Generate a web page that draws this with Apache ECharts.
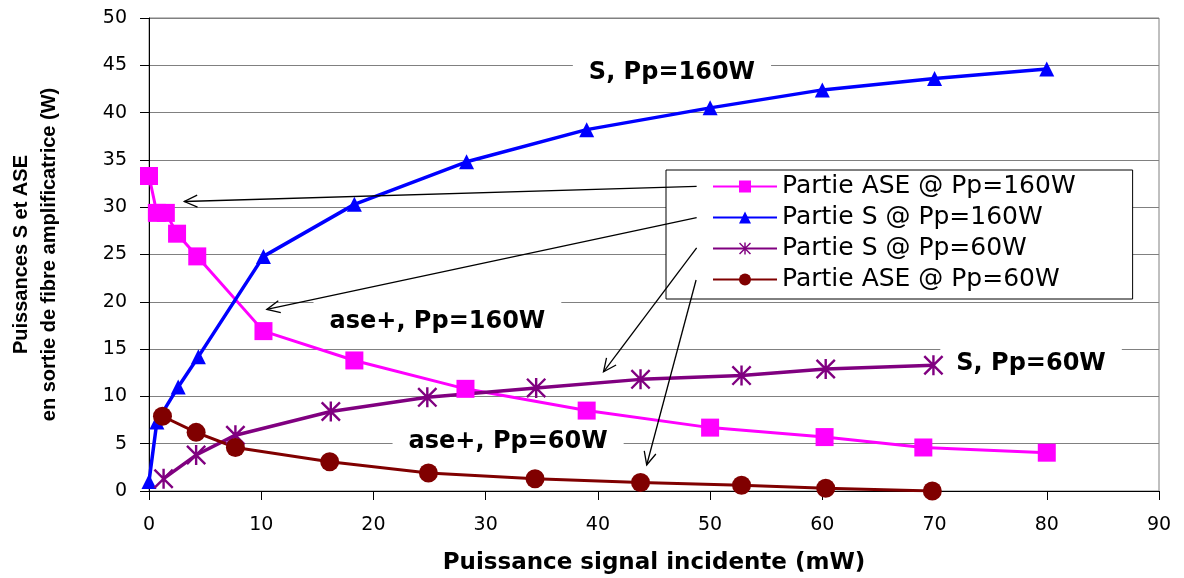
<!DOCTYPE html>
<html>
<head>
<meta charset="utf-8">
<script src="https://cdn.jsdelivr.net/npm/echarts@6/dist/echarts.min.js"></script>
<style>
html, body { margin: 0; padding: 0; background: #fff; }
#main { width: 1184px; height: 578px; }
</style>
</head>
<body>
<div id="main"></div>
<script>
// valeurs
var seriesNames = ['Partie ASE @ Pp=160W', 'Partie S @ Pp=160W', 'Partie S @ Pp=60W', 'Partie ASE @ Pp=60W'];

var xAse160 = [0, 0.7, 1.5, 2.5, 4.3, 10.2, 18.3, 28.2, 39.0, 50.0, 60.2, 69.0, 80.0];
var yAse160 = [33.3, 29.4, 29.4, 27.2, 24.8, 16.9, 13.8, 10.8, 8.5, 6.7, 5.7, 4.6, 4.05];

var xS160 = [0, 0.7, 2.6, 4.4, 10.2, 18.3, 28.3, 39.0, 50.0, 60.0, 70.0, 80.0];
var yS160 = [1.0, 7.3, 11.0, 14.2, 24.8, 30.3, 34.8, 38.2, 40.5, 42.4, 43.6, 44.6];

var xS60 = [1.3, 4.2, 7.7, 16.2, 24.8, 34.5, 43.8, 52.8, 60.3, 69.9];
var yS60 = [1.3, 3.8, 5.9, 8.4, 9.9, 10.9, 11.8, 12.2, 12.9, 13.3];

var xAse60 = [1.2, 4.2, 7.7, 16.1, 24.9, 34.4, 43.8, 52.8, 60.3, 69.8];
var yAse60 = [7.9, 6.2, 4.6, 3.1, 1.9, 1.3, 0.9, 0.6, 0.3, 0.0];

// axes
var xMin = 0, xMax = 90, xStep = 10;
var yMin = 0, yMax = 50, yStep = 5;

// annotations (coordonnees du graphe)
var noteTexts = ['S, Pp=160W', 'ase+, Pp=160W', 'S, Pp=60W', 'ase+, Pp=60W'];
var notePos = [[46.6, 44.2], [25.7, 17.9], [78.6, 13.5], [32.0, 5.2]];
var arrowFrom = [[48.8, 32.2], [48.8, 28.9], [48.8, 25.7], [48.75, 22.3]];
var arrowTo = [[3.15, 30.6], [10.5, 19.2], [40.5, 12.6], [44.35, 2.75]];

function zip(xs, ys) {
    return xs.map(function (x, i) { return [x, ys[i]]; });
}

var asterisk = 'path://M4.4,0L5.6,0L5.6,10L4.4,10Z M0,0.85L0.85,0L10,9.15L9.15,10Z M9.15,0L10,0.85L0.85,10L0,9.15Z';

var chart = echarts.init(document.getElementById('main'));
var option = {
    backgroundColor: '#fff',
    animation: false,
    grid: {
        left: 149, right: 25, top: 18, bottom: 87,
        outerBoundsMode: 'none',
        containLabel: false,
        show: true, borderColor: '#808080', borderWidth: 1
    },
    legend: {
        orient: 'vertical',
        left: 666, top: 170,
        itemWidth: 64, itemHeight: 15, itemGap: 6,
        padding: [4, 57, 7, 46],
        backgroundColor: '#fff',
        borderColor: '#000', borderWidth: 1,
        textStyle: { fontFamily: 'DejaVu Sans', fontSize: 25, color: '#000' },
        data: seriesNames
    },
    xAxis: {
        type: 'value',
        min: xMin, max: xMax, interval: xStep,
        name: 'Puissance signal incidente (mW)',
        nameLocation: 'middle',
        nameGap: 61,
        nameTextStyle: { fontFamily: 'DejaVu Sans', fontWeight: 'bold', fontSize: 23, color: '#000' },
        axisLine: { lineStyle: { color: '#000', width: 1 } },
        axisTick: { show: true, length: 9, lineStyle: { color: '#000' } },
        axisLabel: { margin: 25, fontFamily: 'DejaVu Sans', fontSize: 19, color: '#000' },
        splitLine: { show: false }
    },
    yAxis: {
        type: 'value',
        min: yMin, max: yMax, interval: yStep,
        name: 'Puissances S et ASE\nen sortie de fibre amplificatrice (W)',
        nameLocation: 'middle',
        nameRotate: 90,
        nameGap: 86,
        nameTextStyle: { fontFamily: 'Liberation Sans', fontWeight: 'bold', fontSize: 20, lineHeight: 28, color: '#000' },
        axisLine: { show: true, lineStyle: { color: '#000', width: 1 } },
        axisTick: { show: true, length: 9, lineStyle: { color: '#000' } },
        axisLabel: { margin: 22, fontFamily: 'DejaVu Sans', fontSize: 19, color: '#000' },
        splitLine: { show: true, lineStyle: { color: '#808080', width: 1 } }
    },
    series: [
        {
            name: seriesNames[0], type: 'line',
            data: zip(xAse160, yAse160),
            symbol: 'rect', symbolSize: 18,
            lineStyle: { color: '#ff00ff', width: 3 },
            itemStyle: { color: '#ff00ff' }
        },
        {
            name: seriesNames[1], type: 'line',
            data: zip(xS160, yS160),
            symbol: 'triangle', symbolSize: 15,
            lineStyle: { color: '#0000ff', width: 3.5 },
            itemStyle: { color: '#0000ff' }
        },
        {
            name: seriesNames[2], type: 'line',
            data: zip(xS60, yS60),
            symbol: asterisk, symbolSize: 20,
            lineStyle: { color: '#800080', width: 3.5 },
            itemStyle: { color: '#800080' }
        },
        {
            name: seriesNames[3], type: 'line',
            data: zip(xAse60, yAse60),
            symbol: 'circle', symbolSize: 19,
            lineStyle: { color: '#800000', width: 3 },
            itemStyle: { color: '#800000' }
        }
    ]
};
chart.setOption(option);

// textes et fleches places via l'echelle du graphe
function px(p) {
    return chart.convertToPixel({ gridIndex: 0 }, p);
}
var g = [];
noteTexts.forEach(function (t, i) {
    var p = px(notePos[i]);
    g.push({
        type: 'text', z: 1, x: p[0], y: p[1],
        style: {
            text: t, font: 'bold 24px "DejaVu Sans"', fill: '#000',
            align: 'center', verticalAlign: 'middle',
            backgroundColor: '#fff', padding: [10, 16, 8, 16]
        }
    });
});
arrowFrom.forEach(function (a, i) {
    var s = px(a), t = px(arrowTo[i]);
    var dx = s[0] - t[0], dy = s[1] - t[1];
    var len = Math.sqrt(dx * dx + dy * dy);
    var ux = dx / len, uy = dy / len;
    g.push({
        type: 'line', z: 100,
        shape: { x1: s[0], y1: s[1], x2: t[0], y2: t[1] },
        style: { stroke: '#000', lineWidth: 1.3 }
    });
    g.push({
        type: 'polyline', z: 100,
        shape: { points: [[t[0] + ux * 13 - uy * 6, t[1] + uy * 13 + ux * 6], [t[0], t[1]], [t[0] + ux * 13 + uy * 6, t[1] + uy * 13 - ux * 6]] },
        style: { stroke: '#000', fill: null, lineWidth: 1.3 }
    });
});
chart.setOption({ graphic: g });
</script>
</body>
</html>
